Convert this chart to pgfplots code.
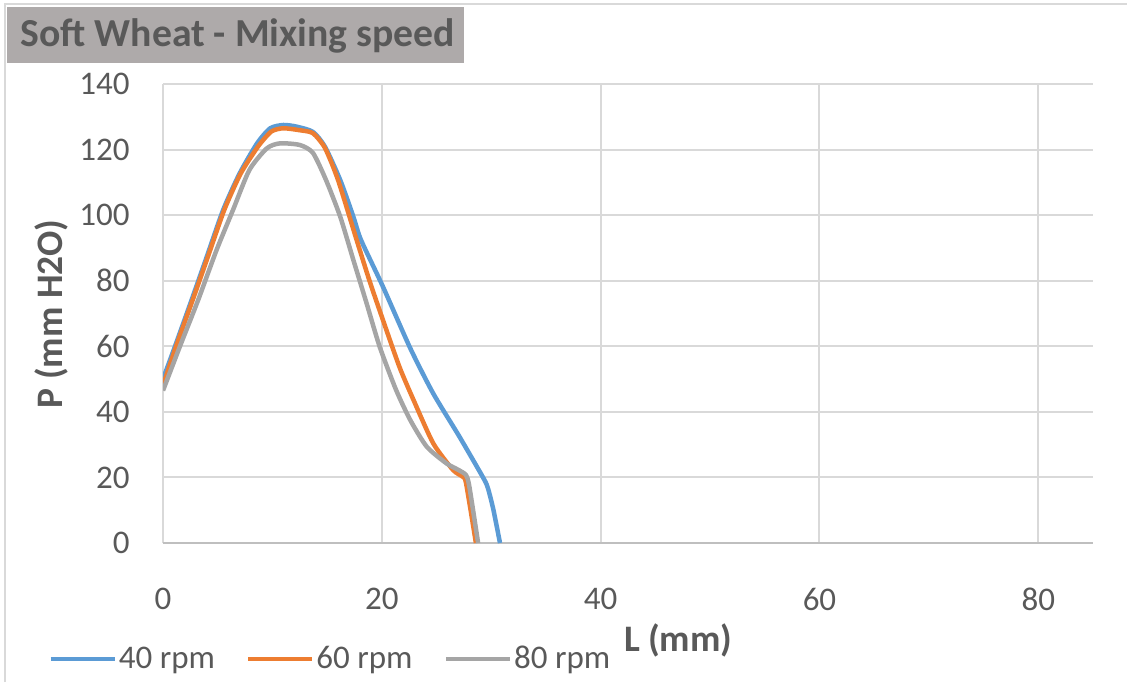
\documentclass[border=0pt]{standalone}
\usepackage{pgfplots}
\pgfplotsset{compat=1.18}
\usepackage{fontspec}
\setmainfont{Carlito}
\definecolor{cblue}{HTML}{5B9BD5}
\definecolor{corange}{HTML}{ED7D31}
\definecolor{cgray}{HTML}{A5A5A5}
\definecolor{gridc}{HTML}{D9D9D9}
\definecolor{axisc}{HTML}{BFBFBF}
\definecolor{txt}{HTML}{595959}
\definecolor{titlebg}{HTML}{AEAAAA}
\begin{document}
\begin{tikzpicture}
\path[use as bounding box] (0,0) rectangle (563.5pt,341pt);
\draw[gridc, line width=1pt] (2.5pt,0) -- (2.5pt,339pt) -- (563.5pt,339pt);
\fill[titlebg] (3.5pt,309.5pt) rectangle (232pt,337.5pt);
\node[anchor=base west, inner sep=0pt, font=\fontsize{19.85}{23}\selectfont\bfseries, text=txt] at (10pt,317.6pt) {Soft Wheat - Mixing speed};
\begin{axis}[
 at={(81.5pt,69.5pt)}, anchor=south west,
 width=465pt, height=229.5pt, scale only axis,
 xmin=0, xmax=85, ymin=0, ymax=140,
 xtick={0,20,40,60,80}, ytick={0,20,...,140},
 grid=major, major grid style={gridc, line width=1pt},
 axis x line*=bottom, axis y line*=left,
 x axis line style={axisc, line width=1pt, -},
 y axis line style={draw=none},
 major tick length=0pt,
 tick label style={font=\fontsize{16.5}{20}\selectfont, text=txt},
 /pgf/number format/assume math mode=true,
 yticklabel style={anchor=east, inner sep=0pt, xshift=-16.5pt},
 xticklabel style={anchor=center, inner sep=0pt, yshift=-28pt},
 xlabel={L (mm)}, ylabel={P (mm H2O)},
 label style={font=\fontsize{18.7}{22}\selectfont\bfseries, text=txt},
 xlabel style={at={(axis description cs:0.554,-0.2113)}, anchor=center},
 ylabel style={at={(axis description cs:-0.1204,0.4989)}, anchor=center},
 legend columns=3,
 legend style={at={(-0.1237,-0.2527)}, anchor=west, draw=none, fill=none, inner sep=0pt,
   font=\fontsize{16.5}{20}\selectfont, text=txt, nodes={inner sep=0pt},
   /tikz/every odd column/.append style={column sep=1pt},
   /tikz/every even column/.append style={column sep=15.5pt}},
 legend image code/.code={\draw[#1] (0pt,0pt) -- (32pt,0pt);},
 every axis plot/.append style={line width=2.25pt, smooth, tension=0.4, line join=round},
]
\addplot[cblue] coordinates {
(0,50) (1.1,60) (2.6,74) (4.0,87.3) (5.5,101.6) (7.0,112.7) (8.6,121.9) (9.8,126.5)
(11.0,127.5) (12.2,127) (13.7,125.4) (14.8,120.9) (16.2,110.7) (17.4,99.5) (18.1,92.4)
(20.1,78.2) (22.6,59.4) (24.7,45.6) (27.1,32.4) (29.3,19.7) (29.7,16.7) (30.2,10.1) (30.8,0)
};
\addlegendentry{40 rpm}
\addplot[corange] coordinates {
(0,48) (1.2,60) (2.7,74) (4.1,87.3) (5.6,101.6) (7.1,112.7) (8.7,121) (9.9,125.5)
(11.0,126.5) (12.5,125.9) (13.7,125) (14.8,120.5) (16.0,110.7) (17.7,92.4) (18.9,79.7)
(20.0,69) (21.6,53.8) (22.9,43.6) (24.7,30.4) (26.5,22.3) (27.4,20.2) (27.7,18.2) (28.6,0)
};
\addlegendentry{60 rpm}
\addplot[cgray] coordinates {
(0,46.5) (1.55,60) (3.2,74) (4.9,89.4) (6.4,101.6) (7.9,113.8) (9.5,120.4) (10.7,121.9)
(12.5,121.4) (13.7,119) (14.9,110.7) (16.2,99.5) (17.4,86.3) (18.6,73.2) (19.8,59.9)
(21.3,46.7) (22.6,37.5) (24.1,29.4) (25.9,24.3) (27.0,22.3) (27.7,20.7) (28.0,17.2) (28.8,0)
};
\addlegendentry{80 rpm}
\end{axis}
\end{tikzpicture}
\end{document}
